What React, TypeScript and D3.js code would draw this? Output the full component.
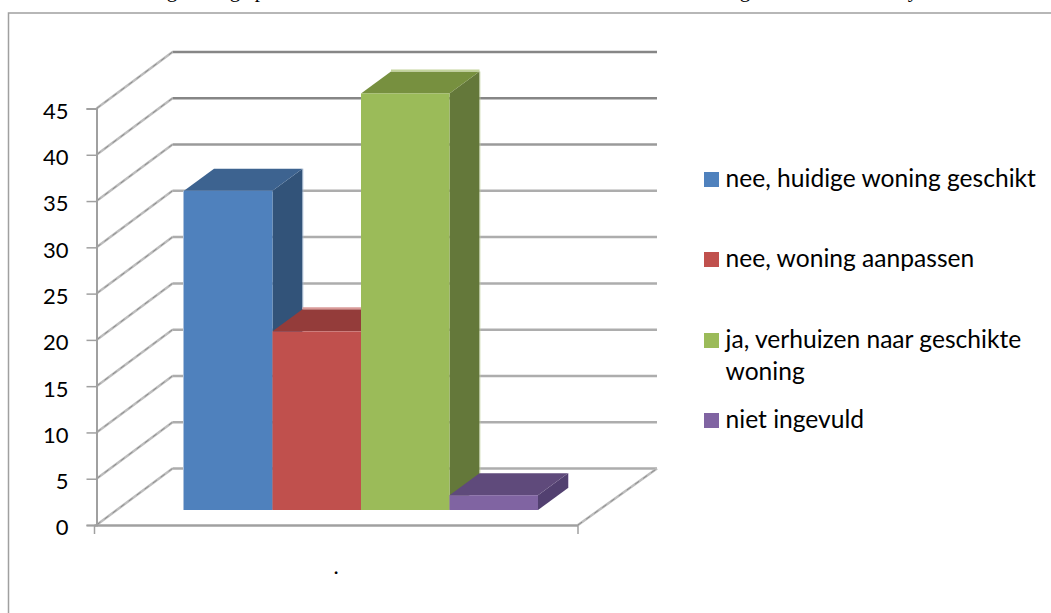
import { useEffect, useRef } from "react"
import * as d3 from "d3"

const categories = ["nee, huidige woning geschikt", "nee, woning aanpassen", "ja, verhuizen naar geschikte woning", "niet ingevuld"]
const values = [34.5, 19.3, 45, 1.6]
const yTicks = [0, 5, 10, 15, 20, 25, 30, 35, 40, 45]
const legendLines = [["nee, huidige woning geschikt"], ["nee, woning aanpassen"], ["ja, verhuizen naar geschikte", "woning"], ["niet ingevuld"]]
// the page text above the chart is cut off, only these descenders show
const clippedGlyphs = ["g", "g", "p", "g", "y"]

const front = ["#4f81bd", "#c0504d", "#9bbb59", "#8064a2"]
const topFace = ["#3d6390", "#943c3a", "#77903f", "#5f4a7b"]
const sideFace = ["#325379", "#7f3331", "#64783a", "#524070"]
const rim = ["#a9c0dc", "#d99a98", "#c3d49c", "#b3a2c7"]
const font = "Lato, 'Open Sans', sans-serif"

export default function App() {
  const svgRef = useRef(null)

  useEffect(() => {
    if (!svgRef.current) return
    const svg = d3.select(svgRef.current)
    svg.selectAll("*").remove()

    const width = 1051
    const height = 613

    const y = d3.scaleLinear().domain([0, 45]).range([525, 108.5])
    const x = d3.scaleBand().domain(categories).range([184, 538]).padding(0)

    // oblique offsets of the 3D box
    const wallDx = 76
    const wallDy = -56.5
    const barLift = 15
    const barDx = 30
    const barDy = -22
    const axisLeft = 96.5
    const axisRight = 578
    const wallRight = 657

    // frame, only top and left sides are on the page
    svg.append("path")
      .attr("d", `M8.5,${height} V13 H${width}`)
      .attr("fill", "none")
      .attr("stroke", "#a0a0a0")
      .attr("stroke-width", 1.5)

    // back wall gridlines
    yTicks.forEach((t) => {
      const yy = y(t) + wallDy
      const dark = t >= 40
      svg.append("line")
        .attr("x1", axisLeft + wallDx).attr("x2", wallRight)
        .attr("y1", yy).attr("y2", yy)
        .attr("stroke", dark ? "#868686" : t === 35 ? "#9a9a9a" : "#adadad")
        .attr("stroke-width", 2.5)
    })

    // left wall lines
    yTicks.forEach((t) => {
      svg.append("line")
        .attr("x1", axisLeft).attr("x2", axisLeft + wallDx)
        .attr("y1", y(t)).attr("y2", y(t) + wallDy)
        .attr("stroke", "#bdbdbd")
        .attr("stroke-width", 2.5)
      svg.append("line")
        .attr("x1", axisLeft).attr("x2", axisLeft + wallDx)
        .attr("y1", y(t)).attr("y2", y(t) + wallDy)
        .attr("stroke", "#8c8c8c")
        .attr("stroke-width", 1)
        .attr("stroke-dasharray", "5,5")
    })

    // floor right edge
    svg.append("line")
      .attr("x1", axisRight).attr("x2", wallRight)
      .attr("y1", y(0)).attr("y2", y(0) + wallDy)
      .attr("stroke", "#bdbdbd")
      .attr("stroke-width", 2.5)
    svg.append("line")
      .attr("x1", axisRight).attr("x2", wallRight)
      .attr("y1", y(0)).attr("y2", y(0) + wallDy)
      .attr("stroke", "#8c8c8c")
      .attr("stroke-width", 1)
      .attr("stroke-dasharray", "5,5")

    // y axis
    const yAxis = svg.append("g")
      .attr("transform", `translate(${axisLeft},0)`)
      .call(d3.axisLeft(y).tickValues(yTicks).tickSize(10).tickPadding(18).tickFormat(d3.format("d")))
    yAxis.select(".domain").attr("stroke", "#a0a0a0").attr("stroke-width", 2)
    yAxis.selectAll("line").attr("stroke", "#a0a0a0").attr("stroke-width", 1.5)
    yAxis.selectAll("text")
      .attr("font-family", font)
      .attr("font-size", 22)
      .attr("fill", "#000")
      .attr("dy", "0.45em")

    // x axis line and end ticks
    svg.append("line")
      .attr("x1", axisLeft - 2).attr("x2", axisRight)
      .attr("y1", y(0) + 0.5).attr("y2", y(0) + 0.5)
      .attr("stroke", "#a0a0a0")
      .attr("stroke-width", 2.5)
    ;[axisLeft - 2, axisRight].forEach((tx) => {
      svg.append("line")
        .attr("x1", tx).attr("x2", tx)
        .attr("y1", y(0)).attr("y2", y(0) + 9)
        .attr("stroke", "#a0a0a0")
        .attr("stroke-width", 1.5)
    })

    // bars, left to right so each box covers the side of the one before
    categories.forEach((c, i) => {
      const x0 = x(c)
      const x1 = x0 + x.bandwidth()
      const base = y(0) - barLift
      const top = y(values[i]) - barLift
      const g = svg.append("g")

      g.append("polygon")
        .attr("points", `${x1},${top} ${x1 + barDx},${top + barDy} ${x1 + barDx},${base + barDy} ${x1},${base}`)
        .attr("fill", sideFace[i])
      // light rim on the far edge of the box
      g.append("line")
        .attr("x1", x1 + barDx + 0.5).attr("x2", x1 + barDx + 0.5)
        .attr("y1", top + barDy).attr("y2", base + barDy)
        .attr("stroke", rim[i])
        .attr("stroke-opacity", 0.6)
      g.append("polygon")
        .attr("points", `${x0},${top} ${x0 + barDx},${top + barDy} ${x1 + barDx},${top + barDy} ${x1},${top}`)
        .attr("fill", topFace[i])
      if (i === 1 || i === 2) {
        g.append("line")
          .attr("x1", x0 + barDx).attr("x2", x1 + barDx)
          .attr("y1", top + barDy - 1).attr("y2", top + barDy - 1)
          .attr("stroke", rim[i])
          .attr("stroke-width", 2)
      }
      g.append("rect")
        .attr("x", x0).attr("y", top)
        .attr("width", x.bandwidth()).attr("height", base - top)
        .attr("fill", front[i])
      if (i === 0) {
        g.append("line")
          .attr("x1", x0 - 0.5).attr("x2", x0 - 0.5)
          .attr("y1", top).attr("y2", base)
          .attr("stroke", rim[i])
      }
    })

    // legend
    const legendTops = [172, 252, 333, 413]
    legendLines.forEach((lines, i) => {
      svg.append("rect")
        .attr("x", 704).attr("y", legendTops[i])
        .attr("width", 15).attr("height", 15)
        .attr("fill", front[i])
      lines.forEach((line, j) => {
        svg.append("text")
          .attr("x", 725.5)
          .attr("y", legendTops[i] + 14.5 + j * 32)
          .attr("font-family", font)
          .attr("font-size", 24.6)
          .attr("fill", "#000")
          .text(line)
      })
    })

    // empty category label
    svg.append("text")
      .attr("x", 336).attr("y", 574)
      .attr("text-anchor", "middle")
      .attr("font-family", font)
      .attr("font-size", 22)
      .attr("fill", "#000")
      .text(".")

    // cut off line of text on top
    const glyphX = [172, 235, 260, 745, 913]
    clippedGlyphs.forEach((g, i) => {
      svg.append("text")
        .attr("x", glyphX[i]).attr("y", -3.5)
        .attr("text-anchor", "middle")
        .attr("font-family", "'Liberation Serif', serif")
        .attr("font-size", 21)
        .attr("fill", "#000")
        .text(g)
    })

    svg.attr("width", width).attr("height", height).attr("viewBox", [0, 0, width, height])
  }, [])

  return <svg ref={svgRef} style={{ position: "absolute", left: 0, top: 0, background: "#fff" }}></svg>
}
